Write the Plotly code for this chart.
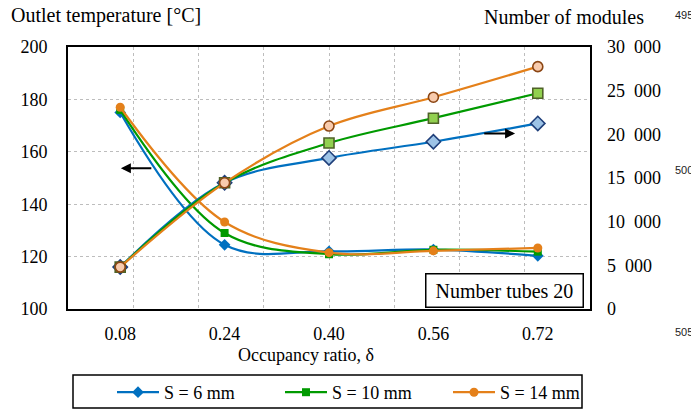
import plotly.graph_objects as go

# Occupancy ratio values on the shared x axis
delta = [0.08, 0.24, 0.40, 0.56, 0.72]
delta_labels = ["0.08", "0.24", "0.40", "0.56", "0.72"]
series_names = ["S = 6 mm", "S = 10 mm", "S = 14 mm"]

# Outlet temperature [°C] (left axis)
temp_ticks = [100, 120, 140, 160, 180, 200]
temp_s6 = [175.0, 124.5, 122.0, 122.7, 120.3]
temp_s10 = [176.0, 129.0, 120.9, 122.6, 121.9]
temp_s14 = [177.0, 133.2, 121.5, 122.2, 123.3]

# Number of modules (right axis)
module_ticks = [0, 5000, 10000, 15000, 20000, 25000, 30000]
module_tick_labels = ["0", "5\u2002000", "10\u2002000", "15\u2002000",
                      "20\u2002000", "25\u2002000", "30\u2002000"]
modules_s6 = [4800, 14450, 17300, 19150, 21250]
modules_s10 = [4800, 14450, 19000, 21850, 24700]
modules_s14 = [4800, 14450, 20950, 24250, 27750]

FONT = "Liberation Serif"
line_colors = ["#0070C0", "#009A00", "#E4801A"]
solid_symbols = ["diamond", "square", "circle"]
solid_sizes = [9, 8, 9]
hollow_sizes = [11, 10, 10]
hollow_fill = ["#9DC3E6", "#92D050", "#F8CBAD"]
hollow_edge = ["#1F3F7A", "#4F6228", "#8B4513"]

fig = go.Figure()

temps = [temp_s6, temp_s10, temp_s14]
mods = [modules_s6, modules_s10, modules_s14]

for i, name in enumerate(series_names):
    fig.add_trace(go.Scatter(
        x=delta, y=temps[i], name=name, mode="lines+markers",
        line=dict(color=line_colors[i], width=2.2, shape="spline", smoothing=1),
        marker=dict(symbol=solid_symbols[i], size=solid_sizes[i], color=line_colors[i]),
        yaxis="y", showlegend=True,
    ))

for i, name in enumerate(series_names):
    fig.add_trace(go.Scatter(
        x=delta, y=mods[i], name=name, mode="lines+markers",
        line=dict(color=line_colors[i], width=2.2, shape="spline", smoothing=1),
        marker=dict(symbol=solid_symbols[i], size=hollow_sizes[i],
                    color=hollow_fill[i], line=dict(color=hollow_edge[i], width=1.6)),
        yaxis="y2", showlegend=False,
    ))

grid = dict(gridcolor="#BDBDBD", griddash="dot", gridwidth=1)

fig.update_layout(
    width=691, height=414,
    margin=dict(l=68, r=101, t=47, b=105, autoexpand=False),
    paper_bgcolor="white", plot_bgcolor="white",
    font=dict(family=FONT, size=18, color="black"),
    xaxis=dict(
        range=[0, 0.8], tickvals=delta, ticktext=delta_labels,
        showgrid=False, zeroline=False, ticks="",
        ticklabelstandoff=7,
        showline=True, mirror=True, linecolor="black", linewidth=2,
        minor=dict(tickvals=[k / 10 for k in range(1, 8)], showgrid=True, **grid),
    ),
    yaxis=dict(
        range=[100, 200], tickvals=temp_ticks, showgrid=True, **grid,
        zeroline=False, ticks="", ticklabelstandoff=15,
        showline=True, mirror=True, linecolor="black", linewidth=2,
    ),
    yaxis2=dict(
        range=[0, 30000], tickvals=module_ticks, ticktext=module_tick_labels,
        overlaying="y", side="right",
        showgrid=False, zeroline=False, ticks="",
        ticklabelstandoff=16, showline=False,
    ),
    legend=dict(
        orientation="h", xref="container", yref="container",
        x=112 / 691, xanchor="left", y=1 - 374 / 414, yanchor="top",
        font=dict(family=FONT, size=18), itemwidth=42,
        entrywidth=111, entrywidthmode="pixels",
        bgcolor="rgba(0,0,0,0)", borderwidth=0,
    ),
)

# Frame around the legend
fig.add_shape(type="rect", xref="paper", yref="paper",
              x0=(73 - 68) / 522, x1=(582 - 68) / 522,
              y0=-(408 - 309) / 262, y1=-(375 - 309) / 262,
              line=dict(color="black", width=1.5))

# Axis titles
fig.add_annotation(text="Outlet temperature [°C]", xref="paper", yref="paper",
                   x=-(68 - 9) / 522, y=1 + (47 - 16) / 262, xanchor="left", yanchor="middle",
                   showarrow=False, font=dict(family=FONT, size=20))
fig.add_annotation(text="Number of modules", xref="paper", yref="paper",
                   x=(564 - 68) / 522, y=1 + (47 - 17) / 262, xanchor="center", yanchor="middle",
                   showarrow=False, font=dict(family=FONT, size=20))
fig.add_annotation(text="Occupancy ratio, δ", xref="paper", yref="paper",
                   x=(306 - 68) / 522, y=-(355 - 309) / 262, xanchor="center", yanchor="middle",
                   showarrow=False, font=dict(family=FONT, size=18))

# Box label inside the plot
fig.add_annotation(text="Number tubes 20", xref="paper", yref="paper",
                   x=(584 - 68) / 522, y=0.004, xanchor="right", yanchor="bottom",
                   showarrow=False, font=dict(family=FONT, size=20),
                   width=150, height=26, align="center", valign="middle",
                   bordercolor="black", borderwidth=1.5, borderpad=3, bgcolor="white")

# Arrows pointing at the axis each group belongs to
fig.add_annotation(x=0.081, y=153.7, ax=0.130, ay=153.7, xref="x", yref="y",
                   axref="x", ayref="y", text="", showarrow=True,
                   arrowhead=2, arrowsize=1, arrowwidth=2, arrowcolor="black")
fig.add_annotation(x=0.6852, y=20100, ax=0.6356, ay=20100, xref="x", yref="y2",
                   axref="x", ayref="y2", text="", showarrow=True,
                   arrowhead=2, arrowsize=1, arrowwidth=2, arrowcolor="black")

# Line numbers in the right margin
for num, ypx in [("495", 15), ("500", 170), ("505", 332)]:
    fig.add_annotation(text=num, xref="paper", yref="paper",
                       x=(673 - 68) / 522, y=1 - (ypx - 47) / 262,
                       xanchor="left", yanchor="middle", showarrow=False,
                       font=dict(family="Liberation Sans", size=11, color="#222222"))

fig.write_html("out.html")
